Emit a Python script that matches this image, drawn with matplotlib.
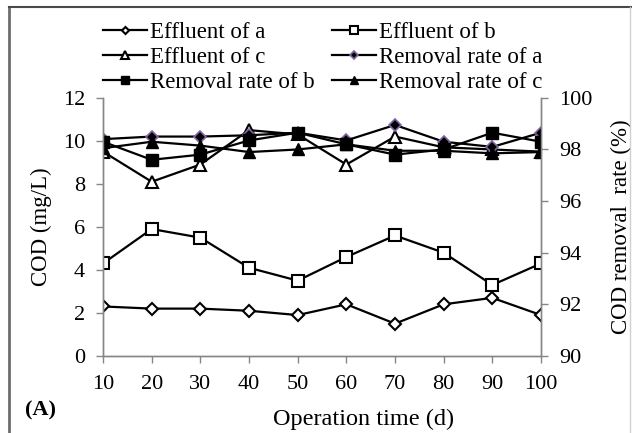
import numpy as np
import matplotlib
matplotlib.use('Agg')
import matplotlib.pyplot as plt
from matplotlib.lines import Line2D

plt.rcParams['font.family'] = ['Liberation Serif', 'DejaVu Serif']

# 운전 기간 (d)
days = [10, 20, 30, 40, 50, 60, 70, 80, 90, 100]

# 유출수 COD (mg/L)
eff_a = [2.3, 2.2, 2.2, 2.1, 1.9, 2.4, 1.5, 2.4, 2.7, 1.9]
eff_b = [4.3, 5.9, 5.5, 4.1, 3.5, 4.6, 5.6, 4.8, 3.3, 4.3]
eff_c = [9.5, 8.1, 8.9, 10.5, 10.3, 8.9, 10.2, 9.7, 9.6, 9.5]

# COD 제거율 (%)
rem_a = [98.4, 98.5, 98.5, 98.55, 98.65, 98.35, 98.95, 98.3, 98.1, 98.65]
rem_b = [98.3, 97.6, 97.8, 98.35, 98.65, 98.2, 97.8, 98.0, 98.65, 98.3]
rem_c = [98.05, 98.3, 98.15, 97.9, 98.0, 98.2, 97.95, 97.95, 97.85, 97.9]

fig = plt.figure(figsize=(6.32, 4.33), dpi=100)
ax = fig.add_axes([0.163, 0.178, 0.693, 0.596])
ax2 = ax.twinx()

grey = '#868686'
lw = 1.6

l1, = ax.plot(days, eff_a, color='black', lw=lw, marker='D', ms=6,
              mfc='white', mec='black', mew=1.5, label='Effluent of a')
l2, = ax.plot(days, eff_b, color='black', lw=lw, marker='s', ms=8.5,
              mfc='white', mec='black', mew=1.5, label='Effluent of b')
l3, = ax.plot(days, eff_c, color='black', lw=lw, marker='^', ms=8.5,
              mfc='white', mec='black', mew=1.5, label='Effluent of c')
l4, = ax2.plot(days, rem_a, color='black', lw=lw, marker='D', ms=6.5,
               mfc='black', mec='#8064A2', mew=1.2, label='Removal rate of a')
l5, = ax2.plot(days, rem_b, color='black', lw=lw, marker='s', ms=9,
               mfc='black', mec='black', label='Removal rate of b')
l6, = ax2.plot(days, rem_c, color='black', lw=lw, marker='^', ms=8.5,
               mfc='black', mec='black', label='Removal rate of c')

ax.set_xlim(10, 100)
ax.set_ylim(0, 12)
ax2.set_ylim(90, 100)
ax.set_xticks(days)
ax.set_yticks(np.arange(0, 13, 2))
ax2.set_yticks(np.arange(90, 101, 2))

for a in (ax, ax2):
    for s in a.spines.values():
        s.set_color(grey)
        s.set_linewidth(1.0)
    a.spines['top'].set_visible(False)
    a.tick_params(colors=grey, labelcolor='black', labelsize=16, length=5,
                  width=1.0, pad=8)
ax.tick_params(axis='x', pad=9)

ax.set_ylabel('COD (mg/L)', fontsize=16.5, labelpad=8)
ax2.set_ylabel('COD removal  rate (%)', fontsize=16.5, labelpad=13)
ax.set_xlabel('Operation time (d)', fontsize=17.5)
ax.xaxis.set_label_coords(0.594, -0.205)

fig.text(0.04, 1 - 410 / 433, '(A)', fontsize=16, fontweight='bold', va='center')

handles = [l1, l3, l5, l2, l4, l6]
fig.legend(handles, [h.get_label() for h in handles], ncol=2,
           loc='upper left', bbox_to_anchor=(0.163, 0.95), frameon=False,
           fontsize=16.5, handlelength=1.92, handletextpad=0.13,
           labelspacing=0.17, columnspacing=0.74, markerscale=0.6,
           borderaxespad=0, borderpad=0)

# 바깥 테두리
fig.add_artist(Line2D([9 / 632, 9 / 632], [0, 1 - 7 / 433], color='#6e6e6e', lw=2))
fig.add_artist(Line2D([9 / 632, 1], [1 - 7 / 433, 1 - 7 / 433], color='#4a4a4a', lw=1.5))
fig.add_artist(Line2D([630 / 632, 630 / 632], [0, 1 - 7 / 433], color='#d0d0d0', lw=1))

fig.savefig('out.png', dpi=100)
